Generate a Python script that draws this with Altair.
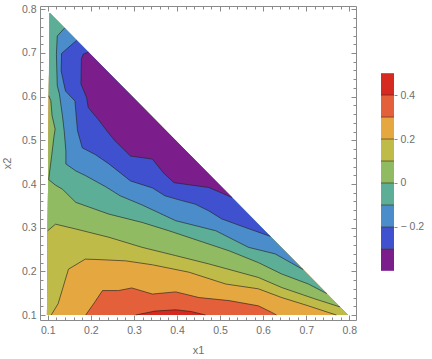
import altair as alt
import pandas as pd

# ---------------- data ----------------
# triangular domain vertices: bottom-left, bottom-right, top tip
tri_x1 = [0.098, 0.797, 0.104]
tri_x2 = [0.100, 0.100, 0.792]

# contour lines (x1, x2), each traced along the line
c_m03_x1 = [0.194, 0.182, 0.178, 0.177, 0.190, 0.194, 0.217, 0.240, 0.256, 0.292, 0.343, 0.368, 0.393, 0.474, 0.528]
c_m03_x2 = [0.702, 0.697, 0.686, 0.629, 0.598, 0.575, 0.548, 0.518, 0.499, 0.464, 0.457, 0.426, 0.403, 0.392, 0.369]

c_m02_x1 = [0.167, 0.132, 0.131, 0.141, 0.163, 0.165, 0.169, 0.180, 0.211, 0.242, 0.292, 0.343, 0.372, 0.411, 0.442, 0.473, 0.504, 0.554, 0.617]
c_m02_x2 = [0.729, 0.699, 0.659, 0.613, 0.590, 0.567, 0.522, 0.483, 0.467, 0.446, 0.407, 0.391, 0.373, 0.362, 0.354, 0.339, 0.320, 0.302, 0.280]

c_m01_x1 = [0.139, 0.122, 0.120, 0.122, 0.127, 0.134, 0.138, 0.142, 0.142, 0.165, 0.188, 0.234, 0.268, 0.319, 0.397, 0.490, 0.566, 0.628, 0.693]
c_m01_x2 = [0.757, 0.739, 0.697, 0.625, 0.606, 0.556, 0.522, 0.476, 0.446, 0.430, 0.419, 0.394, 0.373, 0.352, 0.316, 0.293, 0.255, 0.240, 0.204]

c_000_x1 = [0.102, 0.107, 0.110, 0.117, 0.114, 0.109, 0.104, 0.102, 0.117, 0.134, 0.165, 0.242, 0.319, 0.381, 0.451, 0.521, 0.589, 0.643, 0.705, 0.748]
c_000_x2 = [0.602, 0.591, 0.556, 0.526, 0.506, 0.465, 0.426, 0.410, 0.398, 0.388, 0.358, 0.331, 0.312, 0.293, 0.270, 0.247, 0.220, 0.194, 0.171, 0.149]

c_010_x1 = [0.0997, 0.118, 0.165, 0.242, 0.319, 0.397, 0.474, 0.589, 0.643, 0.720, 0.7785]
c_010_x2 = [0.293, 0.308, 0.297, 0.278, 0.255, 0.236, 0.217, 0.186, 0.163, 0.137, 0.1185]

c_020_x1 = [0.108, 0.124, 0.148, 0.187, 0.217, 0.281, 0.343, 0.428, 0.513, 0.589, 0.643, 0.705, 0.751, 0.770]
c_020_x2 = [0.100, 0.126, 0.205, 0.228, 0.227, 0.224, 0.215, 0.198, 0.171, 0.160, 0.140, 0.121, 0.106, 0.100]

c_030_x1 = [0.188, 0.208, 0.227, 0.264, 0.295, 0.343, 0.397, 0.451, 0.521, 0.589, 0.620, 0.631]
c_030_x2 = [0.100, 0.128, 0.156, 0.156, 0.162, 0.148, 0.153, 0.140, 0.133, 0.121, 0.106, 0.100]

c_040_x1 = [0.304, 0.349, 0.397, 0.433, 0.466]
c_040_x2 = [0.100, 0.109, 0.112, 0.108, 0.100]

# colour bands (lower bound of each band, width 0.1)
band_lo = [-0.4, -0.3, -0.2, -0.1, 0.0, 0.1, 0.2, 0.3, 0.4]
band_colors = ["#7b1e8c", "#4051d0", "#4b8dcb", "#5dae96", "#91bb62",
               "#bfbb49", "#e5a740", "#e4603a", "#d62a20"]

x_major = [0.1, 0.2, 0.3, 0.4, 0.5, 0.6, 0.7, 0.8]
y_major = [0.1, 0.2, 0.3, 0.4, 0.5, 0.6, 0.7, 0.8]
cb_ticks = [-0.2, 0.0, 0.2, 0.4]

# ---------------- build tables ----------------
contours = {
    0.4: (c_040_x1, c_040_x2),
    0.3: (c_030_x1, c_030_x2),
    0.2: (c_020_x1, c_020_x2),
    0.1: (c_010_x1, c_010_x2),
    0.0: (c_000_x1, c_000_x2),
    -0.1: (c_m01_x1, c_m01_x2),
    -0.2: (c_m02_x1, c_m02_x2),
    -0.3: (c_m03_x1, c_m03_x2),
}
# which triangle vertices close each sub-level region
closures = {0.4: [1, 2, 0], 0.3: [1, 2, 0], 0.2: [1, 2, 0], 0.1: [2], 0.0: [2],
            -0.1: [], -0.2: [], -0.3: []}
draw_order = [0.4, 0.3, 0.2, 0.1, 0.0, -0.1, -0.2, -0.3]

rows = []
for i, (a, b) in enumerate(zip(tri_x1, tri_x2)):
    rows.append(dict(poly=0, i=i, x1=a, x2=b))
poly_colors = [band_colors[8]]
for p, c in enumerate(draw_order, start=1):
    xs, ys = contours[c]
    pts = list(zip(xs, ys)) + [(tri_x1[k], tri_x2[k]) for k in closures[c]]
    for i, (a, b) in enumerate(pts):
        rows.append(dict(poly=p, i=i, x1=a, x2=b))
    poly_colors.append(band_colors[round((c + 0.4) * 10) - 1])
poly_df = pd.DataFrame(rows)

line_rows = []
for c, (xs, ys) in contours.items():
    for i, (a, b) in enumerate(zip(xs, ys)):
        line_rows.append(dict(level=str(c), i=i, x1=a, x2=b))
line_df = pd.DataFrame(line_rows)
tri_df = pd.DataFrame({"x1": tri_x1, "x2": tri_x2})

cb_df = pd.DataFrame({"lo": band_lo, "hi": [v + 0.1 for v in band_lo],
                      "band": [str(i) for i in range(len(band_lo))]})
th_df = pd.DataFrame({"t": band_lo[1:]})

# ---------------- styling ----------------
FONT = "Liberation Sans"
TICK = "#8a8a8a"
LABEL = "#6e6e6e"

xs = alt.Scale(domain=[0.0819, 0.8156], nice=False, zero=False)
ys = alt.Scale(domain=[0.0886, 0.8076], nice=False, zero=False)
x_minor = [round(0.1 + 0.02 * k, 2) for k in range(36) if k % 5 != 0]
y_minor = x_minor


def ax(orient, values, size, labels, title=None, tpad=8):
    kw = dict(orient=orient, values=values, tickSize=size, offset=-size, domain=False,
              grid=False, labels=labels, ticks=True, tickColor=TICK, tickWidth=1,
              zindex=1, title=title)
    if labels:
        kw.update(format=".1f", labelFont=FONT, labelFontSize=10.5, labelColor=LABEL,
                  labelPadding=4 if orient == "left" else 5, labelFlush=False)
    if title:
        kw.update(titleFont=FONT, titleFontSize=11, titleFontWeight="normal",
                  titleColor=LABEL, titlePadding=tpad)
    return alt.Axis(**kw)


layers = []
for p in range(len(poly_colors)):
    if p == 0:
        xe = alt.X("x1:Q", scale=xs, axis=ax("bottom", x_major, 5, True, "x1", 9))
        ye = alt.Y("x2:Q", scale=ys, axis=ax("left", y_major, 5, True, "x2", 9))
    else:
        xe = alt.X("x1:Q", scale=xs, axis=None)
        ye = alt.Y("x2:Q", scale=ys, axis=None)
    layers.append(
        alt.Chart(poly_df)
        .transform_filter(alt.datum.poly == p)
        .mark_line(filled=True, interpolate="linear-closed", color=poly_colors[p], strokeWidth=0)
        .encode(x=xe, y=ye, order="i:Q")
    )

layers.append(
    alt.Chart(line_df)
    .mark_line(color="#222222", strokeWidth=0.9, opacity=0.7)
    .encode(x=alt.X("x1:Q", scale=xs, axis=None), y=alt.Y("x2:Q", scale=ys, axis=None),
            detail="level:N", order="i:Q")
)

for xa, ya in [
    (ax("bottom", x_minor, 3, False), ax("left", y_minor, 3, False)),
    (ax("top", x_major, 5, False), ax("right", y_major, 5, False)),
    (ax("top", x_minor, 3, False), ax("right", y_minor, 3, False)),
]:
    layers.append(
        alt.Chart(tri_df).mark_point(opacity=0)
        .encode(x=alt.X("x1:Q", scale=xs, axis=xa), y=alt.Y("x2:Q", scale=ys, axis=ya))
    )

main = alt.layer(*layers).resolve_axis(x="independent", y="independent").properties(
    width=316, height=314
)

cbs = alt.Scale(domain=[-0.624, 0.806], nice=False, zero=False)
cb_rect = alt.Chart(cb_df).mark_rect().encode(
    y=alt.Y("lo:Q", scale=cbs, axis=alt.Axis(
        orient="right", values=cb_ticks, tickSize=3, domain=False, grid=False,
        tickColor=TICK, labelFont=FONT, labelFontSize=10.5, labelColor=LABEL,
        labelPadding=3, labelFlush=False, title=None,
        labelExpr="datum.value == 0 ? '0' : (datum.value < 0 ? '\u2212 ' + format(-datum.value, '.1f') : format(datum.value, '.1f'))")),
    y2="hi:Q",
    x=alt.value(0), x2=alt.value(13),
    color=alt.Color("band:N", scale=alt.Scale(domain=[str(i) for i in range(9)], range=band_colors), legend=None),
)
cb_rule = alt.Chart(th_df).mark_rule(color="#222222", strokeWidth=0.8, opacity=0.7).encode(
    y=alt.Y("t:Q", scale=cbs), x=alt.value(0), x2=alt.value(13)
)
cbar = alt.layer(cb_rect, cb_rule).properties(
    width=13, height=314, view=alt.ViewBackground(stroke="transparent")
)

chart = alt.hconcat(main, cbar, spacing=22).properties(
    padding={"left": 0, "top": 3, "right": 0, "bottom": 0}, background="white"
).configure_view(stroke="#8a8a8a", strokeWidth=1)

chart.save("out.html", embed_options={"renderer": "svg", "actions": False})
